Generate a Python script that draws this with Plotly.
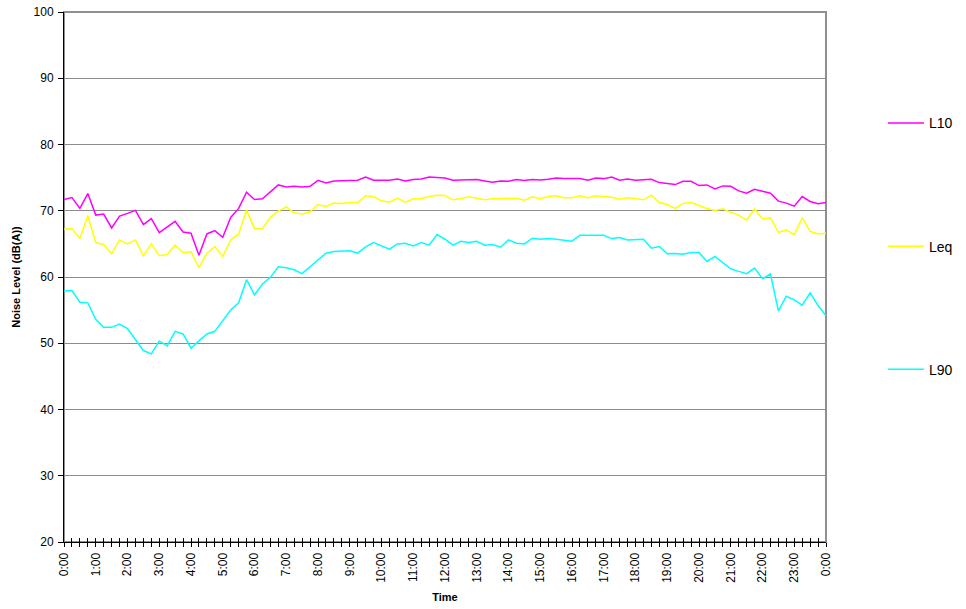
import plotly.graph_objects as go

# time in hours, 15-minute intervals from 0:00 to 24:00
times = [i * 0.25 for i in range(97)]

L10 = [71.7, 72.0, 70.35, 72.6, 69.35, 69.5, 67.4, 69.2, 69.6, 70.05, 67.9, 68.8, 66.7, 67.5, 68.4, 66.8, 66.6, 63.3, 66.5, 67.0, 66.0, 69.0, 70.35, 72.8, 71.7,
       71.8, 72.8, 73.9, 73.6, 73.7, 73.6, 73.7, 74.6, 74.2, 74.5, 74.5, 74.6, 74.6, 75.1, 74.6, 74.6, 74.6, 74.8, 74.5, 74.7, 74.8, 75.1, 75.0,
       74.95, 74.6, 74.6, 74.7, 74.7, 74.5, 74.3, 74.5, 74.45, 74.7, 74.55, 74.7, 74.65, 74.75, 74.95, 74.85, 74.85, 74.85, 74.6, 74.95, 74.85, 75.1, 74.6, 74.8,
       74.6, 74.7, 74.75, 74.25, 74.05, 73.95, 74.45, 74.45, 73.8, 73.9, 73.3, 73.75, 73.7, 73.0, 72.65, 73.25, 72.95, 72.65, 71.45, 71.15, 70.7, 72.15, 71.4, 71.05, 71.25]

Leq = [67.2, 67.3, 65.8, 69.25, 65.2, 64.9, 63.5, 65.6, 65.0, 65.6, 63.2, 65.0, 63.2, 63.4, 64.8, 63.7, 63.8, 61.4, 63.6, 64.6, 63.1, 65.6, 66.5, 70.1, 67.3,
       67.3, 69.0, 69.95, 70.6, 69.7, 69.5, 69.85, 70.95, 70.65, 71.15, 71.1, 71.25, 71.25, 72.25, 72.1, 71.5, 71.3, 71.9, 71.3, 71.8, 71.85, 72.15, 72.35,
       72.3, 71.65, 71.85, 72.1, 71.9, 71.65, 71.8, 71.8, 71.8, 71.9, 71.6, 72.1, 71.8, 72.15, 72.25, 71.95, 71.95, 72.25, 71.95, 72.25, 72.15, 72.05, 71.75, 71.95,
       71.85, 71.65, 72.35, 71.25, 70.95, 70.35, 71.1, 71.25, 70.8, 70.35, 70.05, 70.3, 69.75, 69.35, 68.6, 70.25, 68.8, 68.95, 66.75, 67.1, 66.4, 68.95, 66.9, 66.5, 66.6]

L90 = [57.9, 57.95, 56.2, 56.1, 53.6, 52.4, 52.4, 52.9, 52.2, 50.5, 48.9, 48.4, 50.35, 49.6, 51.8, 51.4, 49.25, 50.35, 51.4, 51.8, 53.4, 55.0, 56.1, 59.6, 57.3,
       58.95, 59.95, 61.55, 61.4, 61.1, 60.5, 61.55, 62.65, 63.6, 63.85, 63.85, 63.95, 63.6, 64.55, 65.2, 64.7, 64.2, 65.0, 65.1, 64.7, 65.2, 64.8, 66.4,
       65.7, 64.8, 65.4, 65.2, 65.4, 64.8, 64.9, 64.5, 65.6, 65.1, 65.0, 65.85, 65.7, 65.8, 65.7, 65.6, 65.4, 66.3, 66.3, 66.3, 66.3, 65.8, 65.95, 65.6,
       65.7, 65.7, 64.35, 64.6, 63.5, 63.55, 63.45, 63.7, 63.7, 62.35, 63.1, 62.15, 61.25, 60.85, 60.5, 61.35, 59.75, 60.45, 54.9, 57.1, 56.55, 55.75, 57.6, 55.7, 54.15]

hour_labels = ["0:00", "1:00", "2:00", "3:00", "4:00", "5:00", "6:00", "7:00", "8:00", "9:00",
               "10:00", "11:00", "12:00", "13:00", "14:00", "15:00", "16:00", "17:00", "18:00",
               "19:00", "20:00", "21:00", "22:00", "23:00", "0:00"]

tickvals = times
ticktext = [hour_labels[i // 4] if i % 4 == 0 else "" for i in range(len(times))]

FONT = "Arial, Liberation Sans, sans-serif"

fig = go.Figure()
series = [("L10", L10, "#FF00FF"), ("Leq", Leq, "#FFFF00"), ("L90", L90, "#00FFFF")]
for name, vals, col in series:
    fig.add_trace(go.Scatter(x=times, y=vals, name=name, mode="lines",
                             line=dict(color=col, width=1.5), legendgroup=name))

# helper trace so the overlaid axis (inside ticks -> crossing tick marks) is drawn
fig.add_trace(go.Scatter(x=[times[0]], y=[None], xaxis="x2", yaxis="y", mode="lines",
                         showlegend=False, hoverinfo="skip"))

fig.update_layout(
    width=966, height=609,
    margin=dict(l=64, r=140, t=12, b=67),
    paper_bgcolor="white", plot_bgcolor="white",
    font=dict(family=FONT, color="black", size=12),
    showlegend=True,
    legend=dict(xref="container", yref="container", x=0.914, xanchor="left",
                y=0.5955, yanchor="middle",
                font=dict(size=14, family=FONT), tracegroupgap=102, itemwidth=36,
                bgcolor="rgba(0,0,0,0)"),
    xaxis=dict(range=[0, 24], tickvals=tickvals, ticktext=ticktext, tickangle=-90,
               ticks="outside", ticklen=4, tickcolor="black", tickwidth=1,
               showline=True, linecolor="black", linewidth=1, showgrid=False, zeroline=False,
               tickfont=dict(size=12), automargin=False, ticklabelstandoff=1,
               ticklabeloverflow="allow",
               title=dict(text="<b>Time</b>", font=dict(size=11), standoff=11)),
    xaxis2=dict(range=[0, 24], overlaying="x", anchor="y", side="bottom",
                tickvals=tickvals, ticks="inside", ticklen=4, tickcolor="black",
                showticklabels=False, showgrid=False, zeroline=False, showline=False,
                automargin=False),
    yaxis=dict(range=[20, 100], dtick=10, ticks="outside", ticklen=5, tickcolor="black",
               showline=True, linecolor="black", linewidth=1,
               showgrid=True, gridcolor="#8c8c8c", gridwidth=1, zeroline=False,
               tickfont=dict(size=12), automargin=False, ticklabelstandoff=2,
               ticklabeloverflow="allow",
               title=dict(text="<b>Noise Level (dB(A))</b>", font=dict(size=11), standoff=10)),
    shapes=[dict(type="rect", xref="paper", yref="paper", x0=0, x1=1, y0=0, y1=1,
                 line=dict(color="#909090", width=2), layer="below")],
)

# remove the default 8px page margin so the figure fills the window exactly
fig.write_html("out.html", config={"displayModeBar": False},
               post_script="document.body.style.margin='0';document.body.style.overflow='hidden';")
